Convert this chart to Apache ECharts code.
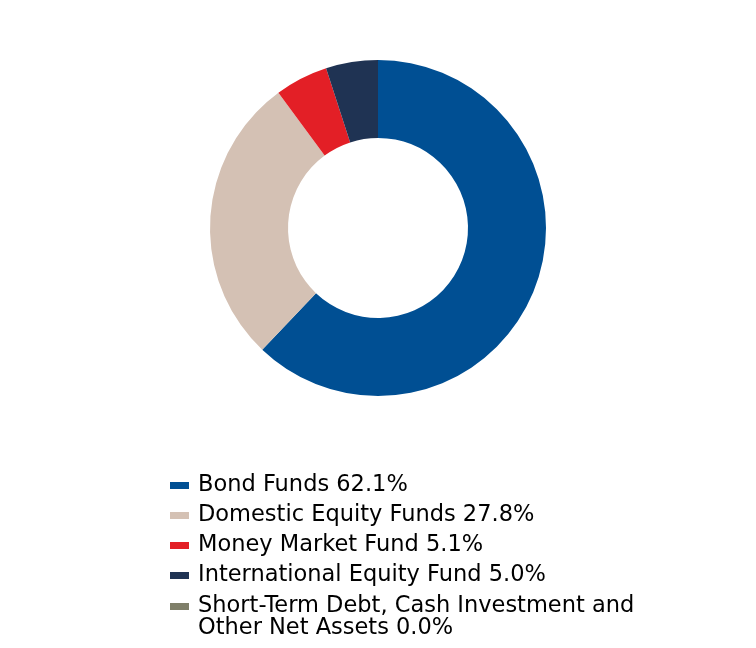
<!DOCTYPE html>
<html>
<head>
<meta charset="utf-8">
<script src="https://cdn.jsdelivr.net/npm/echarts@6/dist/echarts.min.js"></script>
<style>html,body{margin:0;padding:0;background:#fff}#c{width:756px;height:648px}</style>
</head>
<body>
<div id="c"></div>
<script>
const categories = ["Bond Funds", "Domestic Equity Funds", "Money Market Fund", "International Equity Fund", "Short-Term Debt, Cash Investment and Other Net Assets"];
const values = [62.1, 27.8, 5.1, 5.0, 0.0];
const colors = ["#004f93", "#d4c1b4", "#e31f26", "#1f3353", "#7f7f69"];

const chart = echarts.init(document.getElementById('c'));
const labelFor = {};
categories.forEach((c, i) => {
  let t = c + " " + values[i].toFixed(1) + "%";
  if (c.indexOf("and Other") >= 0) t = t.replace("and Other", "and\nOther");
  labelFor[c] = t;
});
const legendText = { fontFamily: 'DejaVu Sans', fontSize: 22.5, color: '#000', lineHeight: 22, padding: [0,0,0,4] };
chart.setOption({
  animation: false,
  color: colors,
  legend: [{
    orient: 'vertical',
    left: 170,
    top: 474,
    padding: 0,
    itemWidth: 19,
    itemHeight: 7,
    itemGap: 7,
    icon: 'rect',
    formatter: n => labelFor[n],
    textStyle: legendText,
    data: categories.slice(0, 4)
  }, {
    orient: 'vertical',
    left: 170,
    top: 595,
    padding: 0,
    itemWidth: 19,
    itemHeight: 29,
    icon: 'path://M0,0H19V7H0Z M0,29H0.01V29.01H0Z',
    formatter: n => labelFor[n],
    textStyle: legendText,
    data: categories.slice(4)
  }],
  series: [{
    type: 'pie',
    center: [378, 228],
    radius: [90, 168],
    startAngle: 90,
    clockwise: true,
    label: { show: false },
    labelLine: { show: false },
    emphasis: { disabled: true },
    itemStyle: { borderWidth: 0 },
    data: categories.map((c, i) => ({ name: c, value: values[i] }))
  }]
});
</script>
</body>
</html>
